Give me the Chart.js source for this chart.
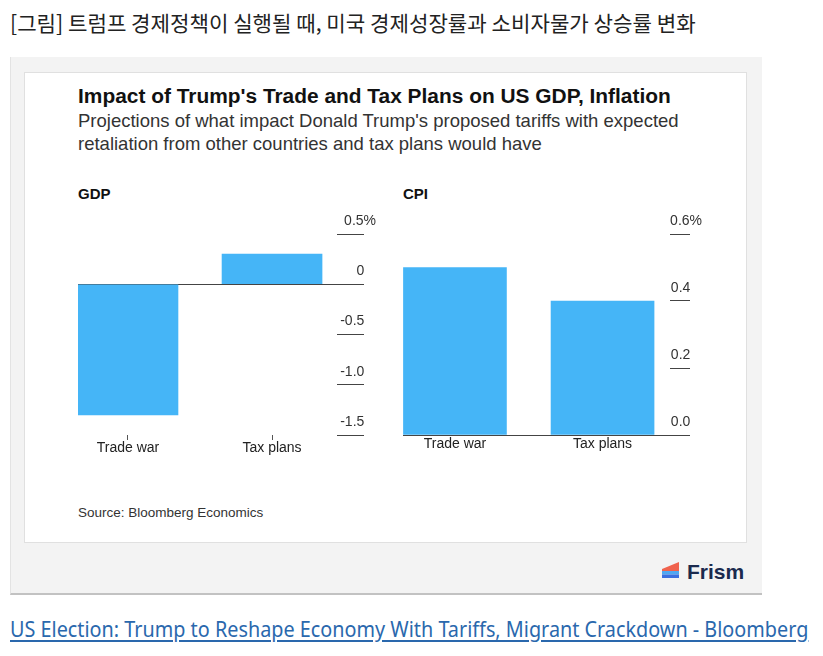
<!DOCTYPE html>
<html>
<head>
<meta charset="utf-8">
<script src="https://cdn.jsdelivr.net/npm/chart.js@4.4.1/dist/chart.umd.min.js"></script>
<style>
  body { margin:0; width:823px; height:656px; position:relative; overflow:hidden; background:#fff;
         font-family:"Liberation Sans", Arial, Helvetica, sans-serif; }
  .abs { position:absolute; white-space:nowrap; }
  #heading { left:10px; top:7px; font-family:"Noto Sans CJK KR", sans-serif; font-size:21px; line-height:30px;
             color:#222; transform-origin:left top; }
  #frame { left:10px; top:57px; width:751px; height:536px; background:#f3f3f3;
           border-left:1px solid #e3e3e3; border-bottom:2px solid #c2c2c2; }
  #card { left:24px; top:72px; width:721px; height:469px; background:#fff; border:1px solid #e0e0e0; }
  #title { left:78px; top:84px; font-size:20.9px; line-height:24px; font-weight:bold; color:#111; }
  #sub { left:78px; top:109px; font-size:18.5px; line-height:23px; color:#333; }
  .panel { top:185px; font-size:15px; line-height:18px; font-weight:bold; color:#111; }
  #source { left:78px; top:505px; font-size:13.5px; line-height:16px; color:#333; }
  #logo { left:662px; top:561px; }
  #logoText { left:687px; top:561px; font-size:21px; line-height:21px; font-weight:bold; color:#1b2a4e; }
  #link { left:10px; top:613px; font-family:"Noto Sans", sans-serif; font-size:22px; line-height:30px;
          color:#2a68ad; text-decoration:underline; text-underline-offset:3px; transform-origin:left top; }
  canvas { position:absolute; }
</style>
</head>
<body>
<div id="heading" class="abs">[그림] 트럼프 경제정책이 실행될 때, 미국 경제성장률과 소비자물가 상승률 변화</div>
<div id="frame" class="abs"></div>
<div id="card" class="abs"></div>
<div id="title" class="abs">Impact of Trump's Trade and Tax Plans on US GDP, Inflation</div>
<div id="sub" class="abs">Projections of what impact Donald Trump's proposed tariffs with expected<br>retaliation from other countries and tax plans would have</div>
<div class="abs panel" style="left:78px">GDP</div>
<div class="abs panel" style="left:403px">CPI</div>
<canvas id="gdp" width="320" height="270" style="left:60px; top:200px"></canvas>
<canvas id="cpi" width="325" height="270" style="left:385px; top:200px"></canvas>
<div id="source" class="abs">Source: Bloomberg Economics</div>
<svg id="logo" class="abs" width="18" height="18" viewBox="0 0 18 18">
  <polygon points="0,8 17,1 17,10 0,10" fill="#f0624d"/>
  <rect x="0" y="10" width="17" height="3.5" fill="#4fa7f2"/>
  <rect x="0" y="13.5" width="17" height="3.5" fill="#3b6fe0"/>
</svg>
<div id="logoText" class="abs">Frism</div>
<div id="link" class="abs">US Election: Trump to Reshape Economy With Tariffs, Migrant Crackdown - Bloomberg</div>

<script>
const categories = ["Trade war", "Tax plans"];
const gdpValues = [-1.3, 0.3];
const cpiValues = [0.5, 0.4];
const gdpTicks = [-1.5, -1.0, -0.5, 0, 0.5];
const gdpTickLabels = ["-1.5", "-1.0", "-0.5", "0", "0.5%"];
const cpiTicks = [0, 0.2, 0.4, 0.6];
const cpiTickLabels = ["0.0", "0.2", "0.4", "0.6%"];

// squeeze the condensed-looking html lines to the widths in the picture
function fitWidth(id, target) {
    const el = document.getElementById(id);
    el.style.transform = "scaleX(" + (target / el.offsetWidth) + ")";
}
fitWidth("heading", 686);
fitWidth("link", 798);

Chart.defaults.font.family = '"Liberation Sans", Arial, Helvetica, sans-serif';

function makeChart(id, values, ticks, tickLabels, opt) {
    return new Chart(document.getElementById(id), {
        type: "bar",
        data: {
            datasets: [{
                data: values.map((v, i) => ({ x: i, y: v })),
                backgroundColor: "#45b5f7",
                borderWidth: 0,
                barThickness: opt.barWidth
            }]
        },
        options: {
            responsive: false,
            animation: false,
            devicePixelRatio: 1,
            layout: { padding: opt.padding },
            plugins: { legend: { display: false }, tooltip: { enabled: false } },
            scales: {
                x: {
                    type: "linear",
                    offset: false,
                    min: opt.xMin,
                    max: opt.xMax,
                    border: { display: false },
                    grid: { display: opt.xTickMarks, offset: false, drawOnChartArea: false, tickLength: 5, tickColor: "#555" },
                    afterBuildTicks: s => { s.ticks = categories.map((c, i) => ({ value: i })); },
                    afterFit: s => { s.height = 26; },
                    ticks: {
                        callback: v => categories[v],
                        autoSkip: false, maxRotation: 0, padding: opt.labelPad,
                        font: { size: 14 }, color: "#222"
                    }
                },
                y: {
                    position: "right",
                    min: ticks[0],
                    max: ticks[ticks.length - 1],
                    border: { display: false },
                    grid: {
                        color: ctx => (ctx.tick && ctx.tick.value === 0) ? "#444" : "rgba(0,0,0,0)",
                        tickColor: "#444",
                        tickLength: opt.tickLen
                    },
                    afterBuildTicks: s => { s.ticks = ticks.map(v => ({ value: v })); },
                    afterFit: s => { s.width = opt.tickLen + 12; },
                    ticks: {
                        // numbers line up, the % sign hangs out to the right
                        callback: (v, i) => tickLabels[i].endsWith("%") ? tickLabels[i] : tickLabels[i] + "   ",
                        crossAlign: "far", padding: 0, labelOffset: -13,
                        font: { size: 14 }, color: "#333"
                    }
                }
            }
        }
    });
}

makeChart("gdp", gdpValues, gdpTicks, gdpTickLabels, {
    barWidth: 100, tickLen: 27, xTickMarks: true, labelPad: 0,
    xMin: -0.347, xMax: 1.451,
    padding: { left: 18, right: 4, top: 34, bottom: 9 }
});
makeChart("cpi", cpiValues, cpiTicks, cpiTickLabels, {
    barWidth: 103, tickLen: 20, xTickMarks: false, labelPad: -4,
    xMin: -0.352, xMax: 1.457,
    padding: { left: 18, right: 8, top: 34, bottom: 9 }
});
</script>
</body>
</html>
